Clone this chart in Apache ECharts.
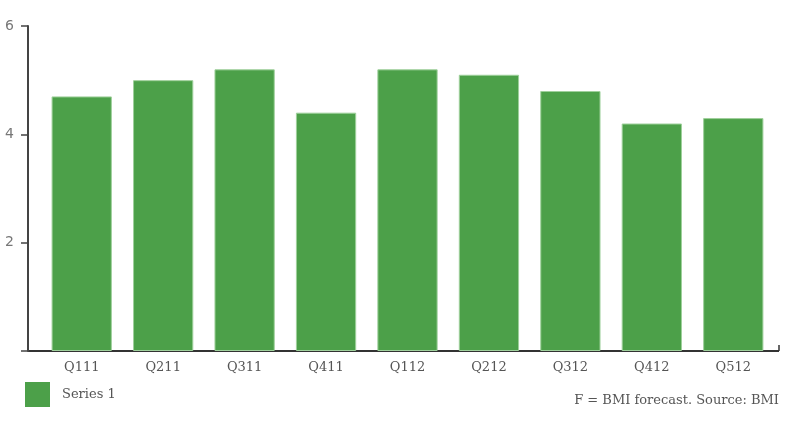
<!DOCTYPE html>
<html><head><meta charset="utf-8">
<script src="https://cdn.jsdelivr.net/npm/echarts@6/dist/echarts.min.js"></script>
<style>html,body{margin:0;padding:0;background:#fff}#c{width:800px;height:432px}</style>
</head><body><div id="c"></div>
<script>
const categories = ['Q111','Q211','Q311','Q411','Q112','Q212','Q312','Q412','Q512'];
const series1 = [4.7, 5.0, 5.2, 4.4, 5.2, 5.1, 4.8, 4.2, 4.3];
const yTicks = [2, 4, 6];
const seriesName = 'Series 1';
const footnote = 'F = BMI forecast. Source: BMI';

const chart = echarts.init(document.getElementById('c'), null, {renderer:'canvas'});
const serif = '"DejaVu Serif", serif';
chart.setOption({
  animation:false,
  grid:{left:41, right:26, top:26, bottom:81},
  xAxis:{type:'category', data:categories, boundaryGap:true,
    axisLine:{show:false}, axisTick:{show:false},
    axisLabel:{color:'#555', fontFamily:serif, fontSize:13, margin:10}},
  yAxis:{type:'value', min:0, max:6, interval:2, offset:13,
    axisLine:{show:true, lineStyle:{color:'#444', width:2}},
    axisTick:{show:true, length:7, lineStyle:{color:'#444', width:1.5}},
    splitLine:{show:false},
    axisLabel:{color:'#777', fontFamily:'"DejaVu Sans", sans-serif', fontSize:14, margin:14,
      formatter:v=> yTicks.includes(v) ? String(v) : ''}},
  legend:{show:true, left:25, top:382, padding:0, itemWidth:25, itemHeight:25, itemGap:12,
    icon:'rect', itemStyle:{borderWidth:0},
    textStyle:{color:'#555', fontFamily:serif, fontSize:13, padding:[0,0,0,7]}, data:[seriesName]},
  series:[{type:'bar', name:seriesName, data:series1, barWidth:'74%',
    itemStyle:{color:'#4ca049', borderColor:'#9fd09c', borderWidth:1}}]
});
const y0 = chart.convertToPixel({yAxisIndex:0}, 0);
chart.setOption({graphic:[
  {type:'text', right:21, top:394, style:{text:footnote, fill:'#555', font:'13px "DejaVu Serif", serif'}},
  {type:'line', shape:{x1:28, y1:y0, x2:779, y2:y0}, style:{stroke:'#333', lineWidth:2}},
  {type:'line', shape:{x1:779, y1:y0-6, x2:779, y2:y0}, style:{stroke:'#333', lineWidth:1.5}}
]});
</script></body></html>
